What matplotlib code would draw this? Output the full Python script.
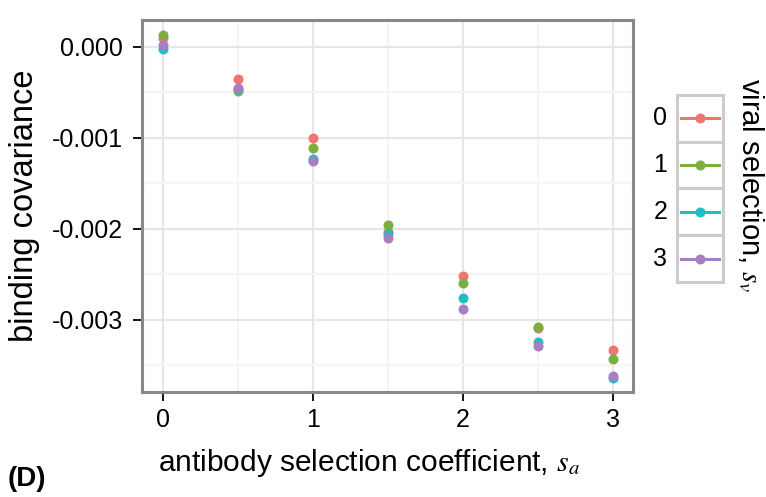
import matplotlib
matplotlib.use("Agg")
import matplotlib.pyplot as plt
from matplotlib.patches import Rectangle
from matplotlib.ticker import MultipleLocator

plt.rcParams["font.family"] = ["Liberation Sans", "DejaVu Sans"]
plt.rcParams["mathtext.fontset"] = "stix"

# antibody selection coefficient s_a
s_a = [0.0, 0.5, 1.0, 1.5, 2.0, 2.5, 3.0]
# binding covariance per viral selection level s_v
cov_sv0 = [0.000092, -0.000359, -0.001001, -0.002035, -0.002519, -0.003091, -0.003330]
cov_sv1 = [0.000128, -0.000484, -0.001111, -0.001955, -0.002600, -0.003084, -0.003436]
cov_sv2 = [-0.000029, -0.000469, -0.001236, -0.002054, -0.002761, -0.003245, -0.003638]
cov_sv3 = [0.000018, -0.000451, -0.001254, -0.002108, -0.002886, -0.003293, -0.003623]
sv_labels = ["0", "1", "2", "3"]
colors = ["#F07470", "#7CAE42", "#20BEC4", "#A77FC0"]

series = [cov_sv0, cov_sv1, cov_sv2, cov_sv3]

fig = plt.figure(figsize=(7.66, 4.97), dpi=100)
ax = fig.add_axes([0.1854, 0.2113, 0.641, 0.7485])

for vals, col in zip(series, colors):
    ax.plot(s_a, vals, "o", color=col, markersize=7.2, markeredgewidth=0, zorder=3)

ax.set_xlim(-0.138, 3.136)
ax.set_ylim(-0.003795, 0.000293)
ax.xaxis.set_major_locator(MultipleLocator(1))
ax.xaxis.set_minor_locator(MultipleLocator(0.5))
ax.yaxis.set_major_locator(MultipleLocator(0.001))
ax.yaxis.set_minor_locator(MultipleLocator(0.0005))
ax.yaxis.set_major_formatter(plt.FuncFormatter(lambda v, p: f"{v:.3f}".replace("-0.000", "0.000")))
ax.xaxis.set_major_formatter(plt.FuncFormatter(lambda v, p: f"{v:g}"))

ax.grid(which="major", color="#E6E6E6", linewidth=1.5, zorder=0)
ax.grid(which="minor", color="#F5F5F5", linewidth=1.5, zorder=0)
ax.set_axisbelow(True)
for sp in ax.spines.values():
    sp.set_color("#888888")
    sp.set_linewidth(2.2)

ax.tick_params(which="major", length=6.5, width=1.3, color="black",
               labelsize=18, labelcolor="black")
ax.tick_params(axis="y", pad=7)
ax.tick_params(axis="x", pad=5)
ax.tick_params(which="minor", length=0)

ax.set_xlabel("antibody selection coefficient, $s_a$", fontsize=21.5, labelpad=11)
ax.xaxis.label.set_x(0.462)
ax.set_ylabel("binding covariance", fontsize=23.5, labelpad=9)

fig.text(0.010, 0.036, "(D)", fontsize=20, fontweight="bold", ha="left", va="center")

# legend drawn as its own panel of keys
lax = fig.add_axes([0.8834, 0.4326, 0.0608, 0.3763])
lax.set_xlim(0, 1)
lax.set_ylim(0, len(sv_labels))
lax.invert_yaxis()
lax.axis("off")
for i, (lab, col) in enumerate(zip(sv_labels, colors)):
    lax.add_patch(Rectangle((0, i), 1, 1, facecolor="white", edgecolor="#CCCCCC",
                            linewidth=2.2, clip_on=False))
    lax.plot([0.1, 0.9], [i + 0.5, i + 0.5], color=col, linewidth=2.2)
    lax.plot([0.5], [i + 0.5], "o", color=col, markersize=7.2, markeredgewidth=0)
    lax.text(-0.35, i + 0.5, lab, fontsize=18, ha="center", va="center",
             transform=lax.transData)

fig.text(0.98, 0.627, "viral selection, $s_v$", fontsize=21, rotation=270,
         ha="center", va="center")

fig.savefig("out.png", dpi=100)
